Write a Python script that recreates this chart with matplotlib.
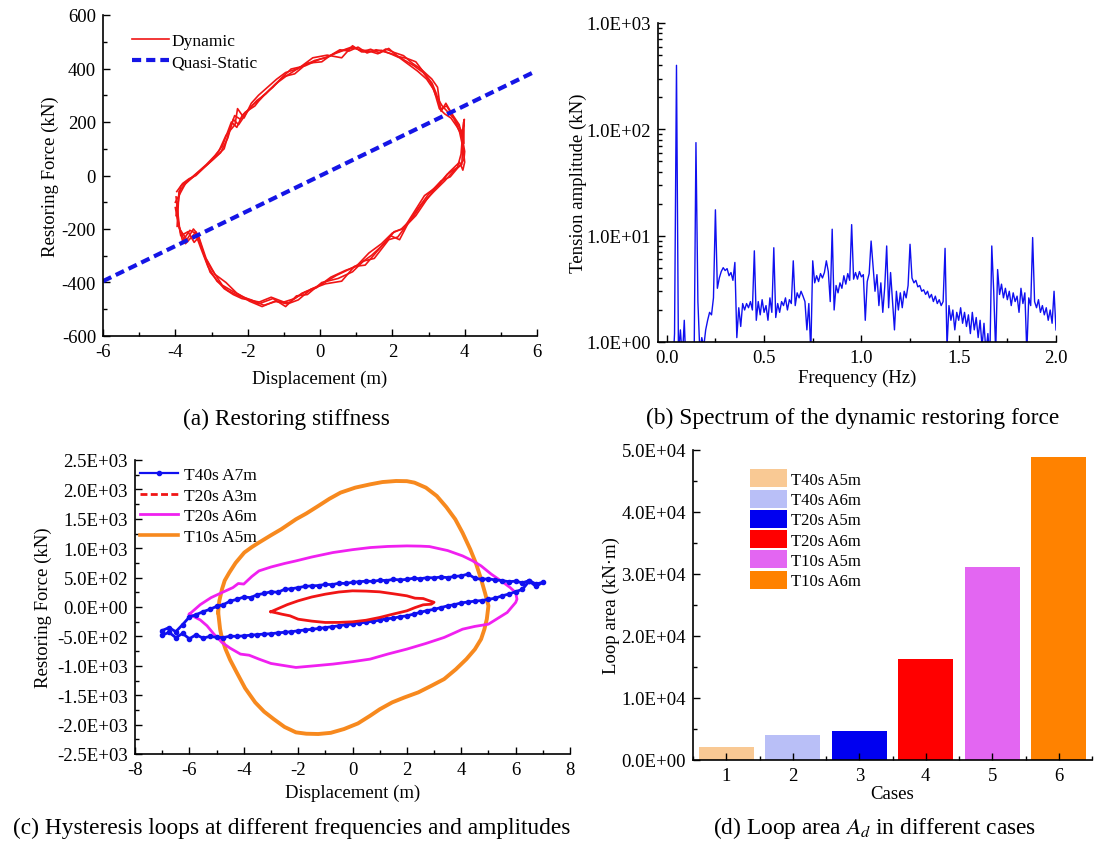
import numpy as np
import matplotlib
matplotlib.use("Agg")
import matplotlib.pyplot as plt
from matplotlib.ticker import MultipleLocator, FuncFormatter, LogLocator, NullFormatter
from matplotlib.lines import Line2D

plt.rcParams['font.family'] = ['Liberation Serif', 'DejaVu Serif']
plt.rcParams['mathtext.fontset'] = 'stix'
plt.rcParams['axes.unicode_minus'] = False

# ---------------- (a) Restoring stiffness ----------------
dyn_x1 = [-3.96,-3.80,-3.62,-3.43,-3.20,-2.94,-2.65,-2.50,-2.36,-2.20,-2.07,-1.80,-1.58,-1.30,-1.09,-0.80,-0.41,0.00,0.25,0.46,0.85,1.10,1.34,1.60,1.82,2.05,2.31,2.55,2.79,3.09,3.25,3.33,3.50,3.67,3.86,3.96,4.00,
          3.95,3.86,3.57,3.28,2.89,2.60,2.31,2.05,1.82,1.43,1.10,0.85,0.46,0.00,-0.41,-0.70,-1.00,-1.35,-1.68,-2.16,-2.40,-2.65,-3.04,-3.23,-3.43,-3.55,-3.72,-3.91,-3.96]
dyn_y1 = [-60,-30,-12,0,30,62,100,170,224,210,236,260,298,330,361,398,410,435,445,460,479,470,466,455,473,460,448,420,398,361,330,249,260,224,162,100,50,
          20,50,12,-37,-75,-137,-199,-210,-249,-298,-330,-348,-373,-410,-435,-460,-473,-455,-473,-460,-445,-423,-361,-286,-211,-230,-255,-187,-112]
dyn_x2 = [-3.98,-3.85,-3.66,-3.40,-3.15,-2.90,-2.70,-2.45,-2.30,-2.15,-1.95,-1.75,-1.50,-1.25,-1.00,-0.70,-0.35,0.05,0.30,0.55,0.80,1.05,1.30,1.55,1.80,2.10,2.35,2.60,2.85,3.05,3.20,3.38,3.55,3.72,3.90,3.98,3.97,
          3.90,3.80,3.52,3.20,2.95,2.65,2.40,2.15,1.90,1.50,1.20,0.90,0.50,0.05,-0.35,-0.65,-0.95,-1.30,-1.70,-2.10,-2.45,-2.70,-3.00,-3.20,-3.38,-3.50,-3.68,-3.88,-3.98]
dyn_y2 = [-150,-40,-20,10,40,75,110,200,180,225,250,280,305,340,370,380,420,425,450,470,465,480,458,470,462,450,430,410,385,350,300,260,235,210,170,120,200,
          80,30,5,-45,-90,-150,-185,-230,-240,-310,-320,-360,-385,-400,-445,-450,-490,-460,-480,-455,-430,-410,-350,-300,-220,-200,-240,-200,-80]
dyn_x3 = [-4.00,-3.88,-3.70,-3.50,-3.25,-3.00,-2.75,-2.55,-2.40,-2.25,-2.00,-1.85,-1.65,-1.40,-1.15,-0.90,-0.55,-0.15,0.15,0.40,0.70,0.95,1.20,1.45,1.70,1.95,2.20,2.45,2.70,2.95,3.15,3.30,3.45,3.62,3.80,3.93,3.99,
          3.92,3.75,3.45,3.15,2.80,2.55,2.25,2.00,1.70,1.35,1.00,0.70,0.30,-0.10,-0.50,-0.85,-1.20,-1.55,-1.90,-2.25,-2.55,-2.85,-3.10,-3.30,-3.45,-3.60,-3.80,-3.93,-4.00]
dyn_y3 = [-100,-70,-25,-5,25,55,85,140,210,190,240,265,285,320,350,375,405,430,440,455,470,478,462,465,468,455,440,415,390,360,320,250,230,215,180,150,210,
          40,25,-20,-60,-110,-160,-200,-215,-255,-290,-340,-355,-380,-420,-440,-475,-470,-485,-465,-450,-430,-395,-340,-270,-215,-205,-245,-170,-120]
dyn_x4 = [-3.95,-3.90,-3.75,-3.55,-3.30,-3.05,-2.80,-2.60,-2.35,-2.28,-2.10,-1.90,-1.70,-1.45,-1.20,-0.95,-0.60,-0.20,0.20,0.60,0.90,1.15,1.40,1.65,1.90,2.15,2.40,2.65,2.90,3.10,3.22,3.35,3.48,3.65,3.85,3.95,4.00,
          3.98,3.88,3.60,3.35,3.00,2.70,2.45,2.20,1.95,1.60,1.25,0.95,0.60,0.15,-0.25,-0.60,-0.90,-1.25,-1.60,-1.95,-2.30,-2.60,-2.90,-3.15,-3.35,-3.48,-3.65,-3.85,-3.95]
dyn_y4 = [-190,-60,-35,-10,20,50,90,150,190,250,215,270,300,330,360,385,400,440,450,440,485,462,472,458,475,445,438,425,380,345,305,240,270,230,190,130,90,
          60,40,-5,-20,-70,-125,-175,-240,-225,-280,-335,-340,-395,-405,-425,-465,-480,-470,-490,-470,-440,-400,-370,-310,-230,-250,-210,-225,-150]
qs_x = [-6.0, 5.86]
qs_y = [-395, 383]

# ---------------- (b) Spectrum ----------------
freq_step = 0.01
amp = [0.5,0.5,0.5,0.5,1.2,400,0.8,1.3,0.7,1.6,
       0.5,0.5,0.5,0.5,0.5,75,2.4,0.8,1.1,0.9,
       1.3,1.6,1.9,1.8,2.6,17.5,3.2,4.0,4.6,5.0,
       4.7,4.9,4.2,4.5,3.8,5.6,1.1,2.1,1.4,2.3,
       2.0,2.3,2.1,2.4,2.0,7.2,1.6,2.4,1.8,2.5,
       1.9,2.2,1.6,2.6,1.9,7.7,1.7,2.3,1.9,2.4,
       2.2,2.6,2.0,2.5,2.3,5.8,2.2,2.9,2.6,3.0,
       2.7,2.4,1.3,2.3,0.8,5.8,3.6,4.2,3.7,4.4,
       4.0,4.5,5.8,4.6,2.4,11.5,2.0,3.4,2.9,3.6,
       3.2,4.2,3.5,4.4,3.8,12.7,3.9,4.5,3.9,4.6,
       4.1,4.3,1.6,3.7,4.4,8.9,5.2,3.0,4.3,2.2,
       3.6,1.9,3.3,8.0,2.1,4.5,2.4,1.3,3.0,2.0,
       2.9,2.1,3.0,2.6,3.4,8.3,4.0,3.6,3.8,3.3,
       3.4,3.0,3.1,2.8,3.0,2.6,2.8,2.4,2.7,2.3,
       2.5,2.2,2.4,7.6,0.9,2.2,1.6,2.0,1.3,1.9,
       1.6,2.1,1.5,1.9,1.4,1.8,1.2,1.9,1.3,1.7,
       1.1,1.6,0.9,1.5,0.8,1.2,0.7,8.0,3.0,0.8,
       4.8,2.8,3.5,2.6,3.2,2.5,3.0,2.2,2.9,2.4,
       2.7,1.9,3.2,2.3,2.9,0.8,2.6,2.2,9.6,2.4,
       2.1,2.5,1.9,2.2,1.8,2.1,1.6,2.0,1.5,3.0,
       1.3]
freq = np.arange(len(amp)) * freq_step

# ---------------- (c) Hysteresis loops ----------------
t40a7_x = [-7.0,-6.75,-6.5,-6.25,-6.0,-5.75,-5.5,-5.25,-5.0,-4.75,-4.5,-4.25,-4.0,-3.75,-3.5,-3.25,-3.0,-2.75,-2.5,-2.25,-2.0,-1.75,-1.5,-1.25,-1.0,-0.75,-0.5,-0.25,
           0.0,0.25,0.5,0.75,1.0,1.25,1.5,1.75,2.0,2.25,2.5,2.75,3.0,3.25,3.5,3.75,4.0,4.25,4.5,4.75,5.0,5.25,5.5,5.75,6.0,6.25,6.5,6.75,7.0,
           6.75,6.5,6.25,6.0,5.75,5.5,5.25,5.0,4.75,4.5,4.25,4.0,3.75,3.5,3.25,3.0,2.75,2.5,2.25,2.0,1.75,1.5,1.25,1.0,0.75,0.5,0.25,
           0.0,-0.25,-0.5,-0.75,-1.0,-1.25,-1.5,-1.75,-2.0,-2.25,-2.5,-2.75,-3.0,-3.25,-3.5,-3.75,-4.0,-4.25,-4.5,-4.75,-5.0,-5.25,-5.5,-5.75,-6.0,-6.25,-6.5,-6.75,-7.0]
t40a7_y = [-400,-350,-420,-300,-170,-130,-80,-40,10,40,100,130,170,160,210,230,260,250,300,310,330,350,360,365,385,380,405,400,
           420,430,440,435,455,450,470,460,470,490,480,500,495,510,500,520,530,560,490,470,480,460,450,430,440,410,450,390,420,
           350,440,300,260,220,190,150,130,110,100,85,70,40,20,-10,-40,-60,-90,-120,-150,-165,-190,-200,-225,-240,-260,-270,
           -290,-300,-320,-335,-350,-365,-380,-390,-405,-420,-430,-440,-455,-460,-470,-480,-490,-500,-495,-520,-515,-500,-530,-470,-540,-450,-520,-430,-480]
t20a3_x = [-3.0,-2.7,-2.4,-2.0,-1.5,-1.0,-0.5,0.0,0.5,1.0,1.5,2.0,2.3,2.6,2.8,3.0,
           2.9,2.6,2.3,2.0,1.5,1.0,0.5,0.0,-0.5,-1.0,-1.5,-2.0,-2.3,-2.6,-2.8,-3.0]
t20a3_y = [-80,-20,40,105,170,218,255,275,270,258,225,190,150,144,110,80,
           48,37,-10,-65,-120,-178,-225,-252,-262,-263,-240,-207,-150,-122,-100,-80]
t20a6_x = [-6.0,-5.6,-5.2,-4.8,-4.4,-4.2,-4.0,-3.7,-3.44,-3.0,-2.5,-2.08,-1.5,-0.72,0.0,0.65,1.3,2.0,2.5,2.83,3.5,4.05,4.4,4.73,5.1,5.55,5.8,6.0,6.05,
           6.0,5.69,5.0,4.5,4.05,3.7,3.37,2.7,2.0,1.3,0.65,0.0,-0.72,-1.4,-2.08,-2.6,-3.0,-3.44,-3.8,-4.12,-4.5,-4.8,-5.1,-5.35,-5.6,-5.89,-6.0]
t20a6_y = [-122,40,160,246,330,400,390,520,614,680,740,784,850,926,975,1011,1030,1039,1035,1028,960,869,790,699,560,416,330,246,133,
           76,-93,-292,-330,-377,-450,-518,-620,-716,-800,-886,-930,-971,-1000,-1028,-990,-960,-886,-820,-801,-700,-603,-460,-320,-220,-150,-122]
t10a5_x = [-4.94,-4.9,-4.8,-4.7,-4.53,-4.3,-3.98,-3.7,-3.44,-3.0,-2.62,-2.08,-1.7,-1.26,-0.85,-0.44,0.1,0.65,1.1,1.6,2.0,2.28,2.7,3.1,3.45,3.78,4.05,4.33,4.55,4.73,4.88,5.0,
           4.94,4.85,4.73,4.5,4.19,3.8,3.37,2.9,2.42,1.9,1.46,1.0,0.65,0.2,-0.31,-0.8,-1.26,-1.7,-2.08,-2.5,-2.9,-3.25,-3.58,-3.95,-4.26,-4.5,-4.67,-4.8,-4.87,-4.94]
t10a5_y = [-93,100,303,450,586,750,926,1020,1096,1220,1323,1492,1590,1718,1840,1945,2030,2086,2125,2143,2140,2115,2030,1888,1700,1492,1260,982,730,473,230,20,
           -207,-380,-546,-720,-886,-1060,-1226,-1340,-1452,-1540,-1622,-1740,-1849,-1980,-2075,-2140,-2160,-2155,-2132,-2040,-1906,-1780,-1622,-1380,-1112,-900,-716,-540,-377,-93]

# ---------------- (d) Loop area ----------------
cases = [1, 2, 3, 4, 5, 6]
loop_area = [2150, 3980, 4730, 16340, 31180, 48920]
case_labels = ['T40s A5m', 'T40s A6m', 'T20s A5m', 'T20s A6m', 'T10s A5m', 'T10s A6m']
bar_colors = ['#F9C994', '#B9BFF7', '#0000F0', '#FF0000', '#E366F2', '#FF8200']

W, H = 1108, 845
fig = plt.figure(figsize=(W/100, H/100), dpi=100)

def ax_at(l, r, t, b):
    return fig.add_axes([l/W, 1-b/H, (r-l)/W, (b-t)/H])

TICK = 13.5
LAB = 13.5
CAP = 16.8

def style(ax):
    for s in ['top', 'right']:
        ax.spines[s].set_visible(False)
    for s in ['left', 'bottom']:
        ax.spines[s].set_linewidth(1.2)
    ax.tick_params(which='both', direction='in', labelsize=TICK, width=1.0, pad=5)
    ax.tick_params(which='major', length=5)
    ax.tick_params(which='minor', length=3)

sci = FuncFormatter(lambda v, p: f"{v:.1E}")

# (a)
axa = ax_at(103, 537, 16, 337)
style(axa)
for xs, ys in [(dyn_x1, dyn_y1), (dyn_x2, dyn_y2), (dyn_x3, dyn_y3), (dyn_x4, dyn_y4)]:
    axa.plot(xs, ys, color='#F01515', lw=1.2)
axa.plot(qs_x, qs_y, color='#1515E6', lw=3, ls=(0, (2.2, 1.2)))
ha = [Line2D([], [], color='#F01515', lw=1.2), Line2D([], [], color='#1515E6', lw=3, ls=(0, (2.2, 1.2)))]
axa.set_xlim(-6, 6)
axa.set_ylim(-600, 600)
axa.xaxis.set_major_locator(MultipleLocator(2))
axa.xaxis.set_minor_locator(MultipleLocator(1))
axa.yaxis.set_major_locator(MultipleLocator(200))
axa.yaxis.set_minor_locator(MultipleLocator(100))
axa.set_xlabel('Displacement (m)', fontsize=LAB, labelpad=7)
axa.set_ylabel('Restoring Force (kN)', fontsize=LAB, labelpad=2)
axa.legend(ha, ['Dynamic', 'Quasi-Static'], loc='upper left', bbox_to_anchor=(0.05, 0.965), frameon=False, fontsize=12.5,
           handlelength=2.18, handletextpad=0.12, labelspacing=0.28, borderaxespad=0)

# (b)
axb = ax_at(658, 1056, 24, 343)
style(axb)
axb.plot(freq, amp, color='#1010F0', lw=1.0)
axb.set_yscale('log')
axb.set_xlim(-0.045, 2.0)
axb.set_ylim(1, 1000)
axb.xaxis.set_major_locator(MultipleLocator(0.5))
axb.xaxis.set_minor_locator(MultipleLocator(0.25))
axb.xaxis.set_major_formatter(FuncFormatter(lambda v, p: f"{v:.1f}"))
axb.yaxis.set_major_locator(LogLocator(base=10, numticks=10))
axb.yaxis.set_minor_locator(LogLocator(base=10, subs=np.arange(2, 10), numticks=10))
axb.yaxis.set_minor_formatter(NullFormatter())
axb.yaxis.set_major_formatter(sci)
axb.set_xlabel('Frequency (Hz)', fontsize=LAB, labelpad=2)
axb.set_ylabel('Tension amplitude (kN)', fontsize=LAB, labelpad=0)

# (c)
axc = ax_at(135, 570, 461, 755)
style(axc)
axc.plot(t10a5_x, t10a5_y, color='#F7891E', lw=2.8, zorder=2)
axc.plot(t20a6_x, t20a6_y, color='#F020F0', lw=2.0, zorder=3)
axc.plot(t40a7_x, t40a7_y, color='#1010F0', lw=2.0, marker='o', ms=3, zorder=4)
axc.plot(t20a3_x, t20a3_y, color='#F01515', lw=2.0, zorder=5)
hc = [Line2D([], [], color='#1010F0', lw=1.6, marker='o', ms=3, markevery=[1]),
      Line2D([], [], color='#F01515', lw=2.0, ls=(0, (2.5, 1.2))),
      Line2D([], [], color='#F020F0', lw=2.0),
      Line2D([], [], color='#F7891E', lw=2.6)]
axc.legend(hc, ['T40s A7m', 'T20s A3m', 'T20s A6m', 'T10s A5m'], loc='upper left',
           bbox_to_anchor=(-0.005, 1.0), frameon=False, fontsize=12.5,
           handlelength=2.18, handletextpad=0.34, labelspacing=0.25, borderaxespad=0)
axc.set_xlim(-8, 8)
axc.set_ylim(-2500, 2500)
axc.xaxis.set_major_locator(MultipleLocator(2))
axc.xaxis.set_minor_locator(MultipleLocator(1))
axc.yaxis.set_major_locator(MultipleLocator(500))
axc.yaxis.set_minor_locator(MultipleLocator(250))
axc.yaxis.set_major_formatter(sci)
axc.set_xlabel('Displacement (m)', fontsize=LAB, labelpad=4)
axc.set_ylabel('Restoring Force (kN)', fontsize=LAB, labelpad=4)

# (d)
axd = ax_at(693, 1092, 451, 761)
style(axd)
bars = axd.bar(cases, loop_area, width=0.82, color=bar_colors, zorder=1)
axd.set_xlim(0.5, 6.5)
axd.set_ylim(0, 50000)
axd.xaxis.set_major_locator(MultipleLocator(1))
axd.xaxis.set_minor_locator(MultipleLocator(0.5))
axd.yaxis.set_major_locator(MultipleLocator(10000))
axd.yaxis.set_minor_locator(MultipleLocator(5000))
axd.yaxis.set_major_formatter(sci)
axd.set_xlabel('Cases', fontsize=LAB, labelpad=1)
axd.set_ylabel('Loop area (kN\u00b7m)', fontsize=LAB, labelpad=1)
axd.legend(bars, case_labels, loc='upper left', bbox_to_anchor=(0.125, 0.959), frameon=False, fontsize=12,
           handlelength=2.22, handleheight=1.285, handletextpad=0.24, labelspacing=0.1, borderaxespad=0)

# captions
fig.text(286/W, 1-419/H, '(a) Restoring stiffness', ha='center', va='center', fontsize=CAP)
fig.text(853/W, 1-418/H, '(b) Spectrum of the dynamic restoring force', ha='center', va='center', fontsize=CAP)
fig.text(292/W, 1-828/H, '(c) Hysteresis loops at different frequencies and amplitudes', ha='center', va='center', fontsize=CAP)
fig.text(875/W, 1-828/H, r'(d) Loop area $\mathit{A_d}$ in different cases', ha='center', va='center', fontsize=CAP)

fig.savefig('out.png', dpi=100)
